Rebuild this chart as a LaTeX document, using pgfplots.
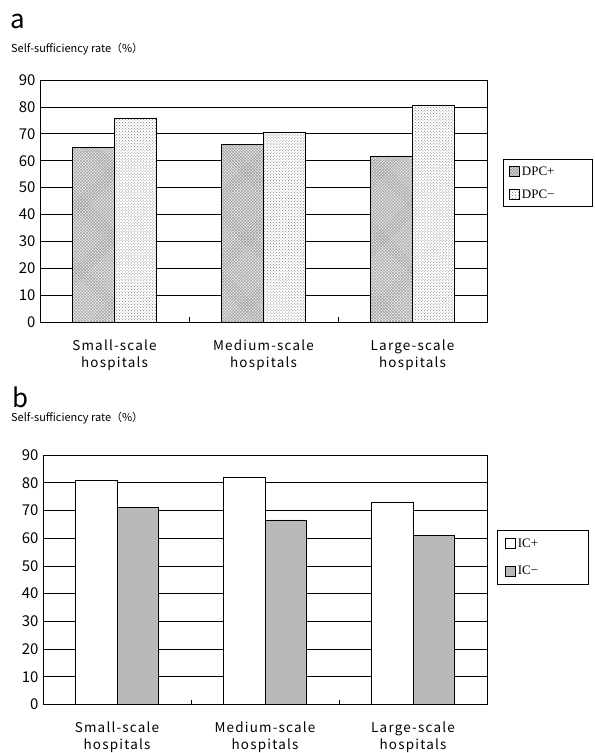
\documentclass[border=0pt]{standalone}
\usepackage{fontspec}
\setmainfont{Noto Sans CJK JP}
\newfontfamily\catfont[LetterSpace=9]{Noto Sans CJK JP}
\newfontfamily\serifleg{Liberation Serif}
\usepackage{pgfplots}
\pgfplotsset{compat=1.18}
\usetikzlibrary{patterns}

\pgfplotsset{
 /pgfplots/ybar legend/.style={/pgfplots/legend image code/.code={\draw[##1] (0bp,-5bp) rectangle (10bp,5bp);}},
 myaxis/.style={
  scale only axis,
  ybar=0pt, bar width=0.28,
  legend image code/.code={\draw[##1] (0bp,-5bp) rectangle (10bp,5bp);},
  enlargelimits=false,
  ymin=0, ymax=90, ytick={0,10,...,90},
  xmin=-0.5, xmax=2.5, xtick={0,1,2},
  xticklabels={Small-scale\\hospitals, Medium-scale\\hospitals, Large-scale\\hospitals},
  xticklabel style={align=center, font=\catfont\fontsize{13.5}{17}\selectfont, yshift=-14bp},
  yticklabel style={font=\fontsize{15}{15}\selectfont, xshift=-1bp},
  ymajorgrids, grid style={black, line width=0.6bp},
  major tick length=0pt,
  minor xtick={0.5,1.5}, minor tick length=5bp, tick align=inside,
  xtick pos=bottom, ytick pos=left,
  tick style={black, line width=0.6bp},
  axis line style={black, line width=0.7bp},
  /pgf/number format/assume math mode=true,
  legend cell align=left,
 }
}

\begin{document}
\begin{tikzpicture}
\useasboundingbox (0bp,0bp) rectangle (595bp,-753bp);
\node[anchor=base west, inner sep=0pt, font=\fontsize{26}{26}\selectfont] at (10bp,-28bp) {a};
\node[anchor=base west, inner sep=0pt, font=\fontsize{11}{12}\selectfont] at (11bp,-52bp) {Self-sufficiency rate（\%）};
\node[anchor=base west, inner sep=0pt, font=\fontsize{26}{26}\selectfont] at (12bp,-407bp) {b};
\node[anchor=base west, inner sep=0pt, font=\fontsize{11}{12}\selectfont] at (11bp,-421bp) {Self-sufficiency rate（\%）};

\begin{axis}[myaxis, width=447bp, height=242bp, at={(40bp,-322bp)}, anchor=south west,
  legend style={draw=black, line width=0.6bp, at={(1.036,0.574)}, anchor=west,
    font=\serifleg\fontsize{13}{14}\selectfont, row sep=9bp, inner xsep=6bp, inner ysep=5bp}]
\addplot[draw=black, line width=0.6bp, fill=gray!15, postaction={pattern=crosshatch, pattern color=gray!80}]
  coordinates {(0,64.9) (1,66.2) (2,61.8)};
\addplot[draw=black, line width=0.6bp, fill=white, postaction={pattern=crosshatch dots, pattern color=gray}]
  coordinates {(0,75.9) (1,70.4) (2,80.6)};
\legend{DPC+\hspace*{30bp}, DPC−}
\end{axis}

\begin{axis}[myaxis, width=444bp, height=249.5bp, at={(43bp,-704.5bp)}, anchor=south west,
  legend style={draw=black, line width=0.6bp, at={(1.0225,0.59)}, anchor=west,
    font=\serifleg\fontsize{13}{14}\selectfont, row sep=13bp, inner xsep=8bp, inner ysep=6bp}]
\addplot[draw=black, line width=0.6bp, fill=white]
  coordinates {(0,80.9) (1,82.0) (2,72.9)};
\addplot[draw=black, line width=0.6bp, fill=gray!55]
  coordinates {(0,71.2) (1,66.6) (2,61.0)};
\legend{IC+\hspace*{40bp}, IC−}
\end{axis}
\end{tikzpicture}
\end{document}
